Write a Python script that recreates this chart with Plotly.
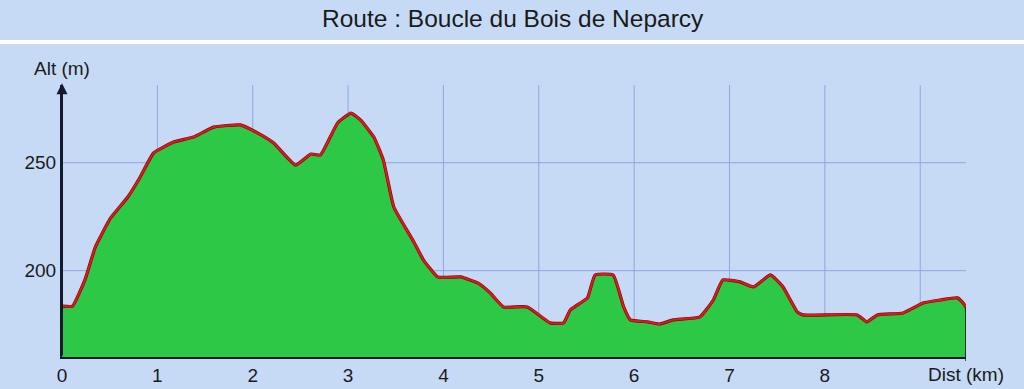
import plotly.graph_objects as go

# Profile data
dist_km = [0.0, 0.11, 0.24, 0.35, 0.51, 0.69, 0.82, 0.96, 1.17, 1.38, 1.59, 1.87,
           2.05, 2.22, 2.45, 2.61, 2.71, 2.89, 3.03, 3.13, 3.27, 3.37, 3.48, 3.69,
           3.79, 3.94, 4.18, 4.36, 4.49, 4.63, 4.88, 5.12, 5.26, 5.33, 5.51, 5.59,
           5.78, 5.89, 5.96, 6.14, 6.27, 6.41, 6.69, 6.83, 6.93, 7.11, 7.25, 7.43,
           7.56, 7.71, 7.77, 8.34, 8.44, 8.55, 8.82, 9.03, 9.21, 9.39, 9.45, 9.48]
alt_m = [183.6, 183.6, 195.7, 211.0, 224.4, 234.1, 243.4, 254.5, 259.6, 261.9, 266.5, 267.5,
         263.8, 259.1, 248.9, 254.0, 253.6, 268.4, 273.0, 269.8, 261.9, 251.2, 229.5, 213.3,
         205.0, 197.1, 197.1, 194.3, 189.7, 183.2, 183.2, 175.8, 175.8, 181.8, 187.4, 198.0,
         198.0, 183.2, 177.2, 176.3, 175.3, 177.2, 178.6, 186.4, 195.7, 194.8, 192.5, 198.0,
         192.5, 180.9, 179.5, 179.5, 176.3, 179.5, 180.4, 185.0, 186.4, 187.4, 185.0, 183.0]

x_tick_vals = [0, 1, 2, 3, 4, 5, 6, 7, 8]
x_tick_text = ["0", "1", "2", "3", "4", "5", "6", "7", "8"]
y_tick_vals = [200, 250]
y_tick_text = ["200", "250"]
x_grid = [1, 2, 3, 4, 5, 6, 7, 8, 9]

title_text = "Route : Boucle du Bois de Neparcy"
x_label = "Dist (km)"
y_label = "Alt (m)"

X_MAX = 9.48
Y_MIN, Y_MAX = 160, 286

BG = "#C6DAF6"
GRID = "#8FA7DF"
AXIS = "#141a2c"
FONT = "Liberation Sans, Arial, sans-serif"

fig = go.Figure()
fig.add_trace(go.Scatter(x=dist_km, y=alt_m, mode="lines", fill="tozeroy",
                         fillcolor="#2CC846", line=dict(color="#6a0d0d", width=3.2),
                         line_shape="spline", line_smoothing=0.4,
                         hoverinfo="skip", showlegend=False))
fig.add_trace(go.Scatter(x=dist_km, y=alt_m, mode="lines",
                         line=dict(color="#E8161B", width=2.0),
                         line_shape="spline", line_smoothing=0.4,
                         hoverinfo="skip", showlegend=False))
# dark right edge of the filled profile
fig.add_trace(go.Scatter(x=[dist_km[-1], dist_km[-1]], y=[Y_MIN, alt_m[-1]], mode="lines",
                         line=dict(color="#143018", width=2),
                         hoverinfo="skip", showlegend=False))

shapes = []
for g in x_grid:
    shapes.append(dict(type="line", xref="x", yref="y", x0=g, x1=g, y0=Y_MIN, y1=Y_MAX,
                       line=dict(color=GRID, width=1), layer="below"))
for g in y_tick_vals:
    shapes.append(dict(type="line", xref="x", yref="y", x0=0, x1=X_MAX, y0=g, y1=g,
                       line=dict(color=GRID, width=1), layer="below"))
# separator line under the title
shapes.append(dict(type="rect", xref="paper", yref="paper",
                   x0=-62 / 904, x1=(1024 - 62) / 904,
                   y0=(357 - 44) / 272, y1=(357 - 40) / 272,
                   fillcolor="white", line=dict(width=0)))
# x axis end tick
shapes.append(dict(type="line", xref="x", yref="paper", x0=X_MAX, x1=X_MAX,
                   y0=0, y1=-4 / 272, line=dict(color=AXIS, width=1.5)))

annotations = [
    dict(text=title_text, xref="paper", yref="paper", x=(513 - 62) / 904,
         y=(357 - 18) / 272, xanchor="center", yanchor="middle", showarrow=False,
         font=dict(family=FONT, size=24.5, color="#1a1a1a")),
    dict(text=y_label, xref="paper", yref="paper", x=0, y=(357 - 68) / 272,
         xanchor="center", yanchor="middle", showarrow=False,
         font=dict(family=FONT, size=19, color="#1a1a1a")),
    dict(text=x_label, xref="x", yref="paper", x=X_MAX, y=-(374 - 357) / 272,
         xanchor="center", yanchor="middle", showarrow=False,
         font=dict(family=FONT, size=19, color="#1a1a1a")),
    dict(text="", x=0, y=Y_MAX + 0.8, xref="x", yref="y", ax=0, ay=Y_MIN,
         axref="x", ayref="y", showarrow=True, arrowhead=2, arrowsize=1.1,
         arrowwidth=2, arrowcolor=AXIS),
]

fig.update_layout(
    width=1024, height=389,
    margin=dict(l=62, r=58, t=85, b=32, autoexpand=False),
    paper_bgcolor=BG, plot_bgcolor=BG,
    shapes=shapes, annotations=annotations,
    font=dict(family=FONT, size=19, color="#1a1a1a"),
    xaxis=dict(range=[0, X_MAX], showgrid=False, zeroline=False, automargin=False,
               tickvals=x_tick_vals, ticktext=x_tick_text, ticks="",
               showline=True, linecolor=AXIS, linewidth=2,
               tickfont=dict(size=19), fixedrange=True),
    yaxis=dict(range=[Y_MIN, Y_MAX], showgrid=False, zeroline=False, automargin=False,
               tickvals=y_tick_vals, ticktext=y_tick_text, ticks="",
               showline=True, linecolor=AXIS, linewidth=2,
               tickfont=dict(size=19), fixedrange=True),
)

fig.write_html("out.html", config={"displayModeBar": False})
